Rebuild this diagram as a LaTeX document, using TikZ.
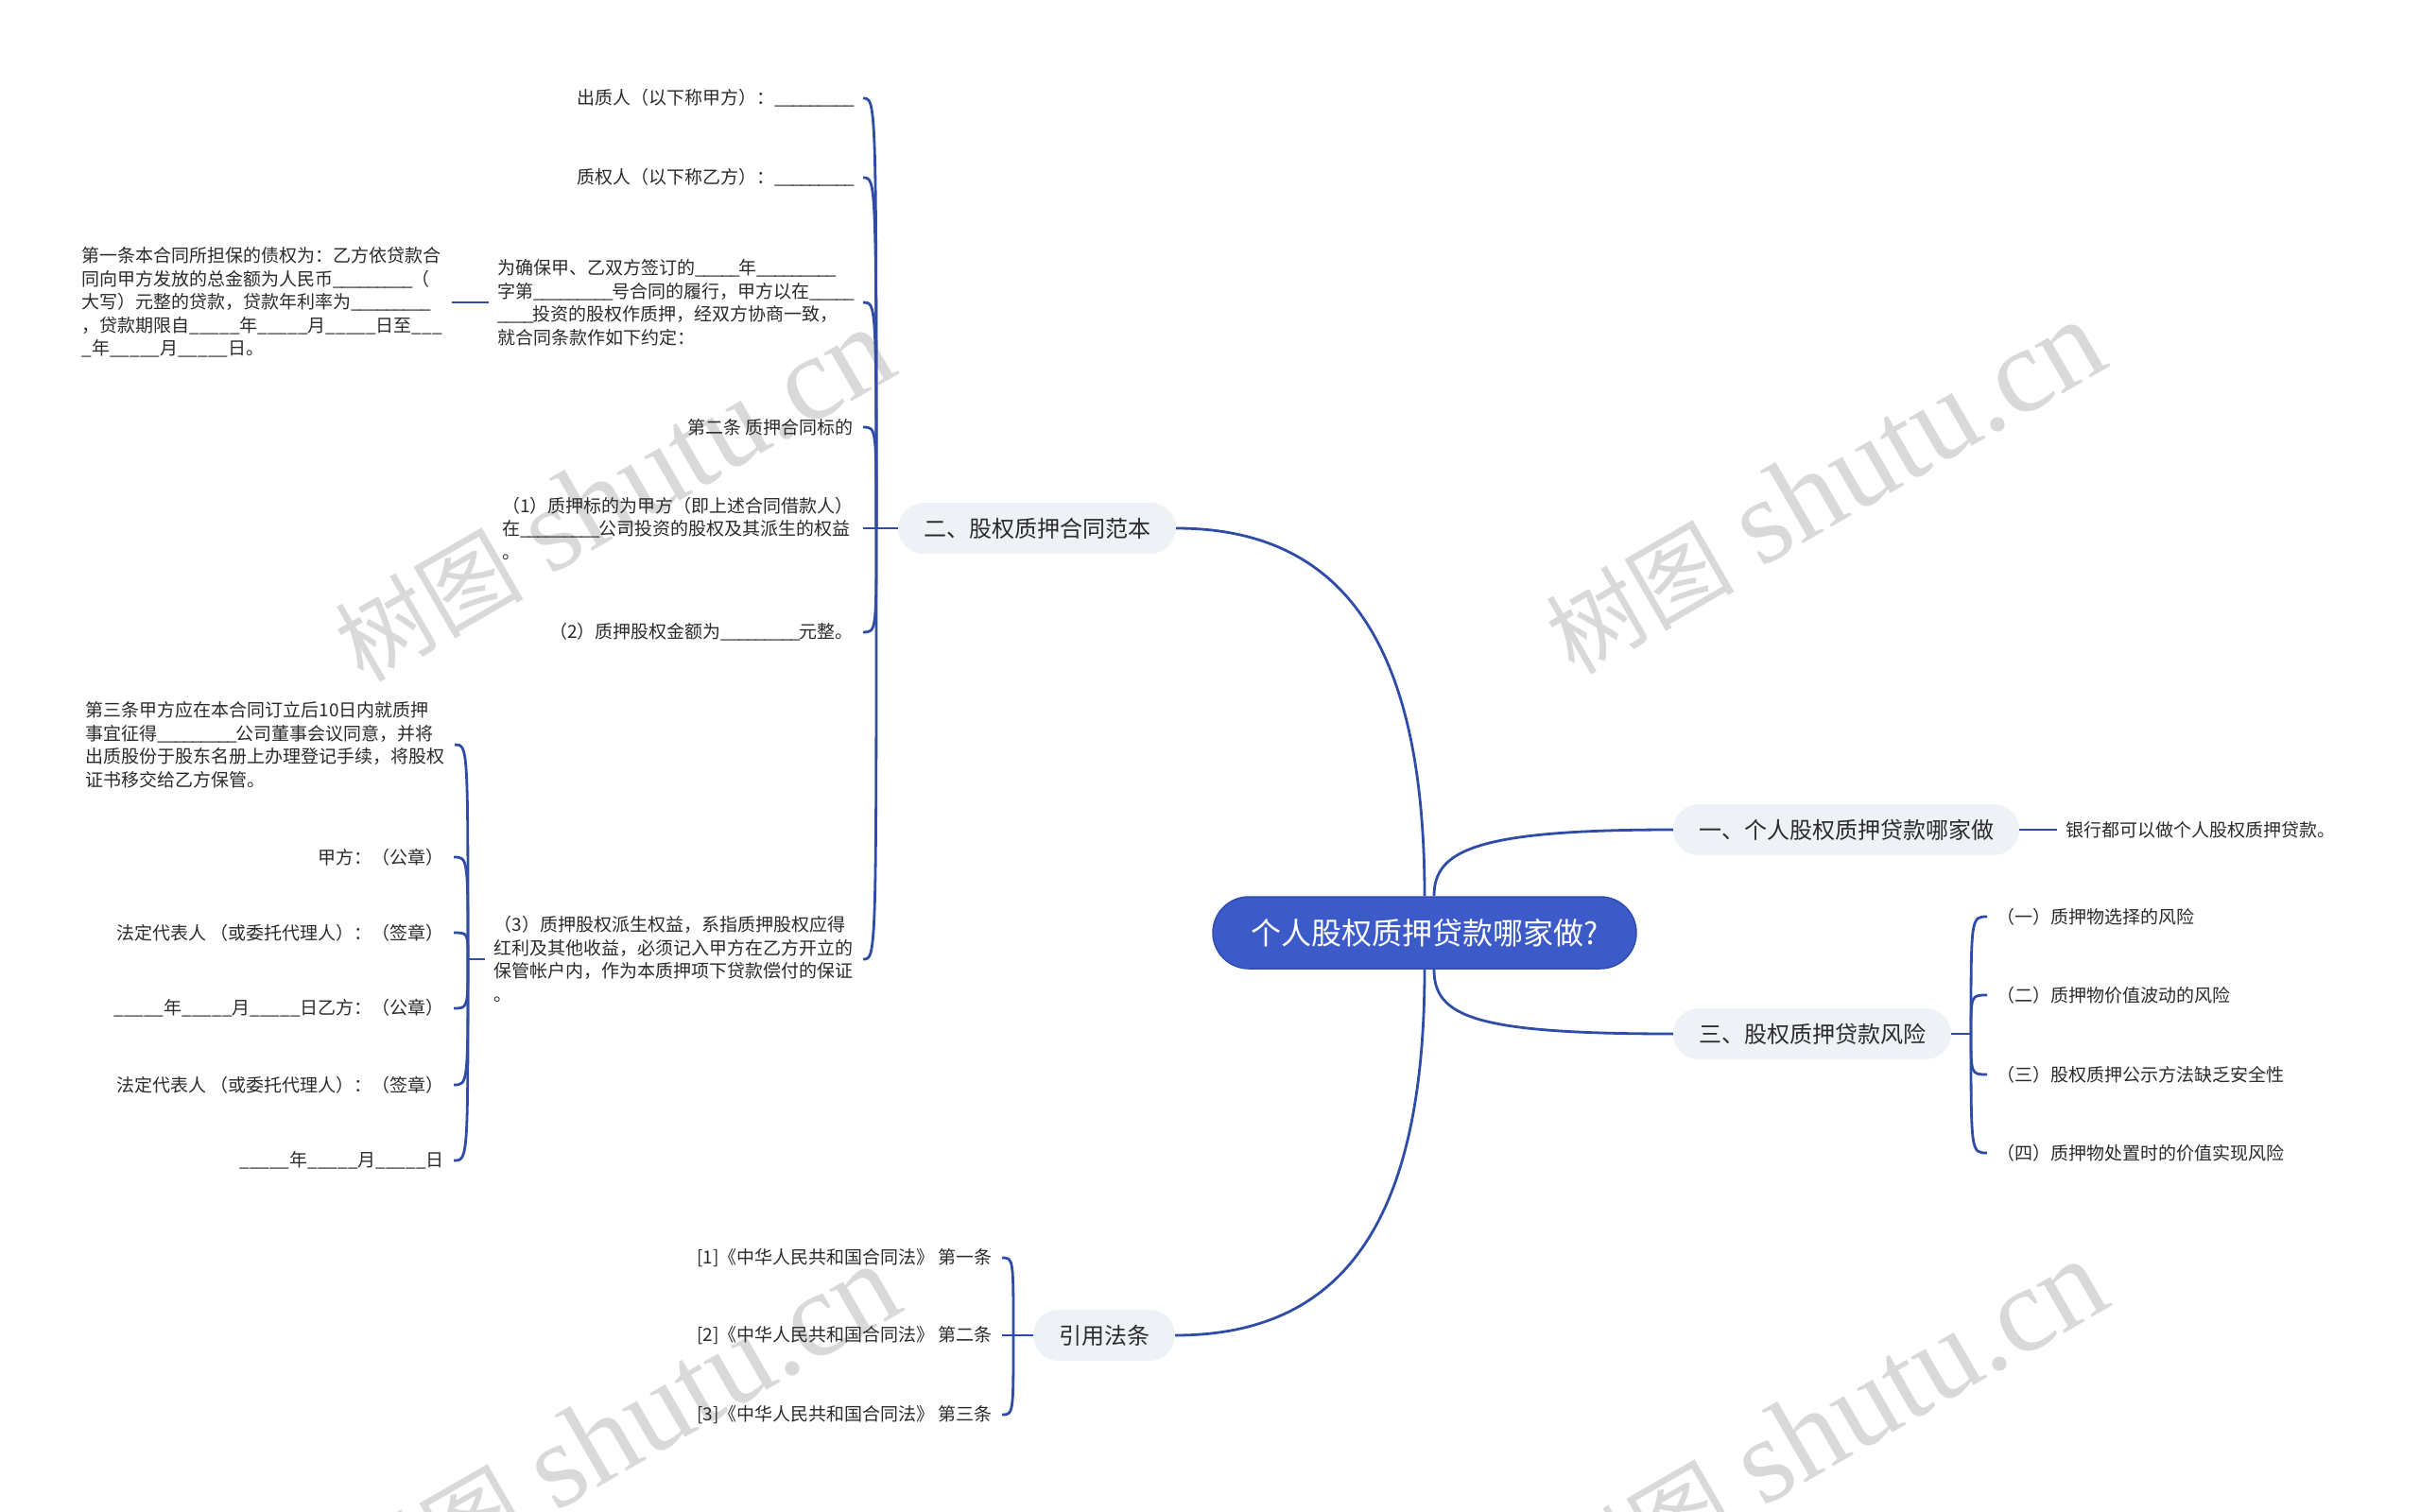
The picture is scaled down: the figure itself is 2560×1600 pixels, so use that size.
\documentclass[tikz,border=0pt]{standalone}
\usepackage{fontspec}
\setmainfont{Noto Sans CJK SC}
\newfontfamily\wmlatin{Liberation Serif}
\usetikzlibrary{calc}
\definecolor{linec}{HTML}{2E4CA8}
\definecolor{rootc}{HTML}{3C5BC9}
\definecolor{rootb}{HTML}{2F4DB0}
\definecolor{lvlc}{HTML}{EEF1F5}
\definecolor{txtc}{HTML}{2B2B2B}
\definecolor{wmc}{HTML}{D9D9D9}
\newcommand{\blk}[1]{\foreach \ii in {1,...,#1}{\_\kern-1.4pt}}
\newcommand{\blkd}[1]{\foreach \ii in {1,...,#1}{\_}}
\newcommand{\wmtext}{{\fontsize{100}{120}\selectfont 树图}\hspace{28pt}{\wmlatin\fontsize{128}{140}\selectfont shutu.cn}}
\begin{document}
\begin{tikzpicture}[x=1pt,y=-1pt,
  conn/.style={draw=linec,line width=2.8pt},
  rootnode/.style={fill=rootc,draw=rootb,line width=1.5pt,rounded corners=38pt,minimum width=448pt,minimum height=76pt,text=white,font=\fontsize{32}{36}\selectfont,inner sep=0pt},
  lvl/.style={fill=lvlc,rounded corners=27pt,minimum height=54pt,inner xsep=27pt,inner ysep=0pt,text=txtc,font=\fontsize{24}{28}\selectfont},
  leaf/.style={text=txtc,font=\fontsize{19}{24.5}\selectfont,inner xsep=10pt,inner ysep=3pt,align=left},
  wm/.style={text=wmc,rotate=30,inner sep=0pt}
]
\fill[white] (0,0) rectangle (2560,1600);
\useasboundingbox (0,0) rectangle (2560,1600);

% watermarks
\node[wm] (wm1) at (649,524) {\wmtext};
\node[wm] (wm2) at (1930,516) {\wmtext};
\node[wm] (wm3) at (655,1515) {\wmtext};
\node[wm] (wm4) at (1932,1510) {\wmtext};

% root and main branches
\node[rootnode] (root) at (1507,987) {个人股权质押贷款哪家做?};
\node[lvl] (b2) at (1097,559) {二、股权质押合同范本};
\node[lvl] (b1) at (1953,878) {一、个人股权质押贷款哪家做};
\node[lvl] (b3) at (1917,1094) {三、股权质押贷款风险};
\node[lvl] (b4) at (1168,1413) {引用法条};

\draw[conn] (root.north) .. controls (1507,680) and (1420,559) .. (b2.east);
\draw[conn] (root.south) .. controls (1507,1294) and (1420,1413) .. (b4.east);
\draw[conn] ([xshift=10pt]root.north) .. controls (1517,900) and (1560,878) .. (b1.west);
\draw[conn] ([xshift=10pt]root.south) .. controls (1517,1076) and (1560,1094) .. (b3.west);

% branch 二
\coordinate (s2) at (927,559);
\node[leaf,anchor=east] (c21) at (913,104) {出质人（以下称甲方）：\blk{9}};
\node[leaf,anchor=east] (c22) at (913,188) {质权人（以下称乙方）：\blk{9}};
\node[leaf,anchor=east] (c23) at (913,320) {为确保甲、乙双方签订的\blk{5}年\blk{9}\\字第\blk{9}号合同的履行，甲方以在\blk{5}\\\blk{4}投资的股权作质押，经双方协商一致，\\就合同条款作如下约定：};
\node[leaf,anchor=east] (c23a) at (478,320) {第一条本合同所担保的债权为：乙方依贷款合\\同向甲方发放的总金额为人民币\blk{9}（\\大写）元整的贷款，贷款年利率为\blk{9}\\，贷款期限自\blkd{5}年\blkd{5}月\blkd{5}日至\blkd{3}\\\blkd{1}年\blkd{5}月\blkd{5}日。};
\node[leaf,anchor=east] (c24) at (913,452) {第二条 质押合同标的};
\node[leaf,anchor=east] (c25) at (913,559) {（1）质押标的为甲方（即上述合同借款人）\\在\blk{9}公司投资的股权及其派生的权益\\。};
\node[leaf,anchor=east] (c26) at (913,669) {（2）质押股权金额为\blk{9}元整。};
\node[leaf,anchor=east] (c27) at (913,1015) {（3）质押股权派生权益，系指质押股权应得\\红利及其他收益，必须记入甲方在乙方开立的\\保管帐户内，作为本质押项下贷款偿付的保证\\。};

\draw[conn] (b2.west) -- (s2);
\foreach \c in {c21,c22,c23,c24,c26,c27}
  \draw[conn] (\c.east) .. controls (s2 |- \c.east) .. (s2);
\draw[conn] (c25.east) -- (s2);
\draw[conn] (c23.west) -- (c23a.east);

% children of (3)
\coordinate (s27) at (495,1015);
\node[leaf,anchor=east] (d1) at (481,788) {第三条甲方应在本合同订立后10日内就质押\\事宜征得\blk{9}公司董事会议同意，并将\\出质股份于股东名册上办理登记手续，将股权\\证书移交给乙方保管。};
\node[leaf,anchor=east] (d2) at (480,907) {甲方：（公章）};
\node[leaf,anchor=east] (d3) at (480,987) {法定代表人 （或委托代理人）：（签章）};
\node[leaf,anchor=east] (d4) at (480,1067) {\blkd{5}年\blkd{5}月\blkd{5}日乙方：（公章）};
\node[leaf,anchor=east] (d5) at (480,1148) {法定代表人 （或委托代理人）：（签章）};
\node[leaf,anchor=east] (d6) at (480,1228) {\blkd{5}年\blkd{5}月\blkd{5}日};
\draw[conn] (c27.west) -- (s27);
\foreach \c in {d1,d2,d3,d4,d5,d6}
  \draw[conn] (\c.east) .. controls (s27 |- \c.east) .. (s27);

% branch 一
\node[leaf,anchor=west,inner xsep=9pt] (f1) at (2176,878) {银行都可以做个人股权质押贷款。};
\draw[conn] (b1.east) -- (f1.west);

% branch 三
\coordinate (s3) at (2085,1094);
\node[leaf,anchor=west] (e1) at (2102,970) {（一）质押物选择的风险};
\node[leaf,anchor=west] (e2) at (2102,1053) {（二）质押物价值波动的风险};
\node[leaf,anchor=west] (e3) at (2102,1137) {（三）股权质押公示方法缺乏安全性};
\node[leaf,anchor=west] (e4) at (2102,1220) {（四）质押物处置时的价值实现风险};
\draw[conn] (b3.east) -- (s3);
\foreach \c in {e1,e2,e3,e4}
  \draw[conn] (\c.west) .. controls (s3 |- \c.west) .. (s3);

% branch 引用法条
\coordinate (s4) at (1072,1413);
\node[leaf,anchor=east] (g1) at (1060,1331) {[1]《中华人民共和国合同法》 第一条};
\node[leaf,anchor=east] (g2) at (1060,1413) {[2]《中华人民共和国合同法》 第二条};
\node[leaf,anchor=east] (g3) at (1060,1497) {[3]《中华人民共和国合同法》 第三条};
\draw[conn] (b4.west) -- (s4);
\draw[conn] (g2.east) -- (s4);
\foreach \c in {g1,g3}
  \draw[conn] (\c.east) .. controls (s4 |- \c.east) .. (s4);
\end{tikzpicture}
\end{document}
